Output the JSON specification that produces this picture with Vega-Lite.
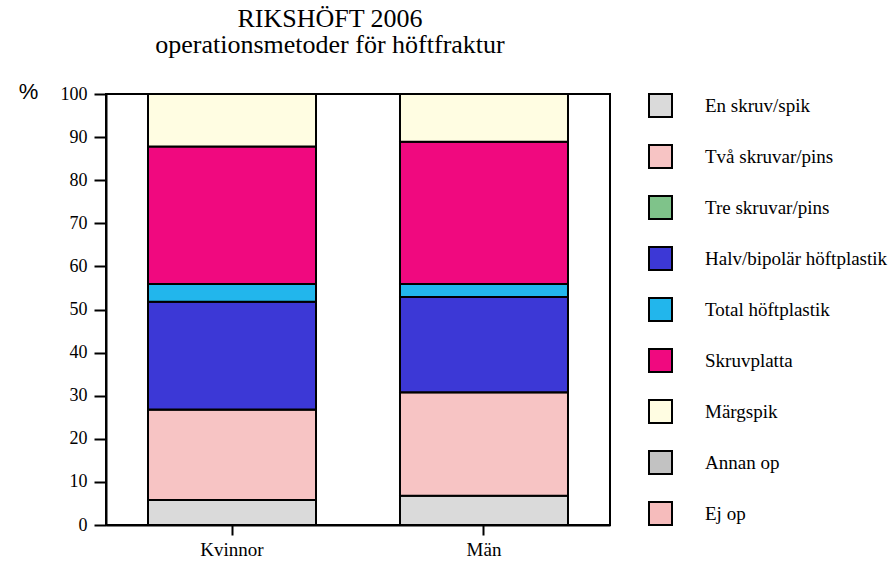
{
  "$schema": "https://vega.github.io/schema/vega-lite/v6.json",
  "width": 504,
  "height": 431,
  "autosize": {"type": "none"},
  "padding": {"left": 106, "top": 94, "right": 282, "bottom": 38},
  "background": "white",
  "title": {
    "text": ["RIKSHÖFT 2006", "operationsmetoder för höftfraktur"],
    "font": "Liberation Serif",
    "fontSize": 26,
    "fontWeight": "normal",
    "color": "black",
    "anchor": "middle",
    "frame": "group",
    "dx": -28,
    "offset": 22,
    "lineHeight": 26
  },
  "data": {
    "values": [
      {"kon": "Kvinnor", "metod": "En skruv/spik", "k": 1, "pct": 5.8},
      {"kon": "Kvinnor", "metod": "Två skruvar/pins", "k": 2, "pct": 21.0},
      {"kon": "Kvinnor", "metod": "Tre skruvar/pins", "k": 3, "pct": 0},
      {"kon": "Kvinnor", "metod": "Halv/bipolär höftplastik", "k": 4, "pct": 25.0},
      {"kon": "Kvinnor", "metod": "Total höftplastik", "k": 5, "pct": 4.1},
      {"kon": "Kvinnor", "metod": "Skruvplatta", "k": 6, "pct": 31.9},
      {"kon": "Kvinnor", "metod": "Märgspik", "k": 7, "pct": 12.2},
      {"kon": "Kvinnor", "metod": "Annan op", "k": 8, "pct": 0},
      {"kon": "Kvinnor", "metod": "Ej op", "k": 9, "pct": 0},
      {"kon": "Män", "metod": "En skruv/spik", "k": 1, "pct": 6.8},
      {"kon": "Män", "metod": "Två skruvar/pins", "k": 2, "pct": 24.0},
      {"kon": "Män", "metod": "Tre skruvar/pins", "k": 3, "pct": 0},
      {"kon": "Män", "metod": "Halv/bipolär höftplastik", "k": 4, "pct": 22.1},
      {"kon": "Män", "metod": "Total höftplastik", "k": 5, "pct": 3.0},
      {"kon": "Män", "metod": "Skruvplatta", "k": 6, "pct": 33.0},
      {"kon": "Män", "metod": "Märgspik", "k": 7, "pct": 11.1},
      {"kon": "Män", "metod": "Annan op", "k": 8, "pct": 0},
      {"kon": "Män", "metod": "Ej op", "k": 9, "pct": 0}
    ]
  },
  "mark": {"type": "bar", "stroke": "black", "strokeWidth": 2},
  "encoding": {
    "x": {
      "field": "kon",
      "type": "nominal",
      "sort": ["Kvinnor", "Män"],
      "scale": {"paddingInner": 0.3333, "paddingOuter": 0.1667},
      "axis": {
        "title": null,
        "labelAngle": 0,
        "labelFont": "Liberation Serif",
        "labelFontSize": 19,
        "labelColor": "black",
        "labelPadding": 5,
        "tickSize": 10,
        "tickWidth": 2,
        "tickColor": "black",
        "domainColor": "black",
        "domainWidth": 2
      }
    },
    "y": {
      "field": "pct",
      "type": "quantitative",
      "stack": "zero",
      "scale": {"domain": [0, 100], "nice": false},
      "axis": {
        "title": "%",
        "titleAngle": 0,
        "titleFont": "Liberation Sans",
        "titleFontSize": 22,
        "titleFontWeight": "normal",
        "titleColor": "black",
        "titleAlign": "center",
        "titleBaseline": "middle",
        "titleX": -78,
        "titleY": -3,
        "values": [0, 10, 20, 30, 40, 50, 60, 70, 80, 90, 100],
        "grid": false,
        "labelFont": "Liberation Serif",
        "labelFontSize": 18,
        "labelColor": "black",
        "labelPadding": 7,
        "tickSize": 12,
        "tickWidth": 2,
        "tickColor": "black",
        "domainColor": "black",
        "domainWidth": 2
      }
    },
    "color": {
      "field": "metod",
      "type": "nominal",
      "scale": {
        "domain": ["En skruv/spik", "Två skruvar/pins", "Tre skruvar/pins", "Halv/bipolär höftplastik", "Total höftplastik", "Skruvplatta", "Märgspik", "Annan op", "Ej op"],
        "range": ["#dadada", "#f7c4c4", "#7fc38a", "#3c38d6", "#22b6ec", "#f0097f", "#fffde2", "#c2c2c2", "#f6bcbc"]
      },
      "legend": {
        "title": null,
        "orient": "none",
        "legendX": 542,
        "legendY": -1,
        "padding": 0,
        "symbolType": "square",
        "symbolSize": 529,
        "symbolStrokeColor": "black",
        "symbolStrokeWidth": 2,
        "symbolOpacity": 1,
        "labelFont": "Liberation Serif",
        "labelFontSize": 19,
        "labelColor": "black",
        "labelOffset": 32,
        "rowPadding": 20,
        "labelLimit": 300
      }
    },
    "order": {"field": "k", "type": "quantitative", "sort": "ascending"}
  },
  "config": {
    "font": "Liberation Serif",
    "view": {"stroke": "black", "strokeWidth": 2},
    "axis": {"labelFont": "Liberation Serif"},
    "legend": {"labelFont": "Liberation Serif"}
  }
}
